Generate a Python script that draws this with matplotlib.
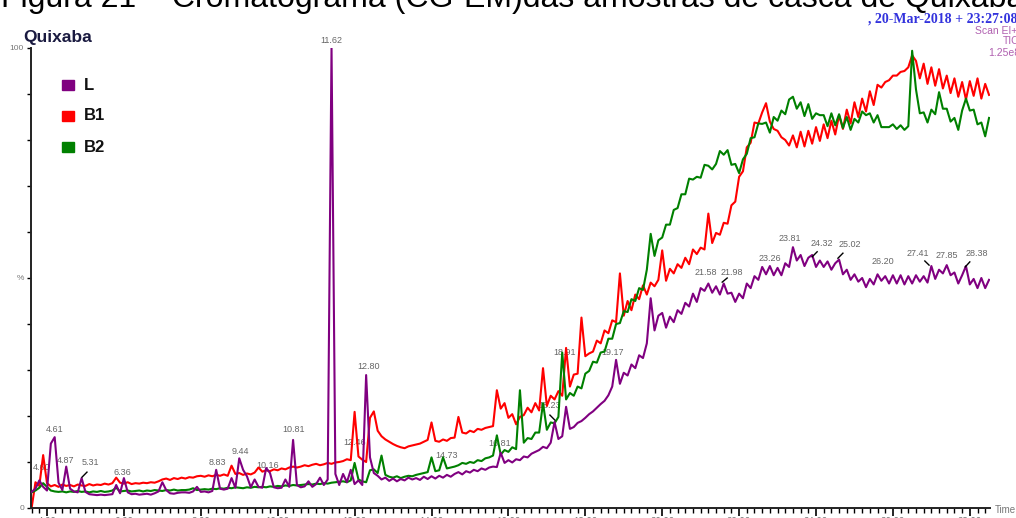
import numpy as np
import matplotlib.pyplot as plt
from matplotlib.patches import Rectangle

plt.rcParams['font.family'] = ['Liberation Sans', 'DejaVu Sans']

# Cromatograma (TIC, %) das tres amostras, uma leitura a cada 0.1 min a partir de 3.6 min
t_inicio = 3.6
passo = 0.1

L = [3.5, 4.2, 6.0, 4.6, 3.8, 14.0, 15.4, 5.5, 3.9, 9.0,
     4.2, 3.6, 3.4, 6.5, 3.5, 3.0, 2.9, 2.8, 2.9, 2.8,
     2.9, 3.0, 5.0, 3.2, 6.5, 3.4, 3.0, 3.1, 2.9, 3.0,
     3.1, 2.9, 3.2, 3.6, 5.6, 3.9, 3.2, 3.1, 3.3, 3.4,
     3.4, 3.3, 3.6, 4.6, 3.5, 3.6, 3.4, 3.7, 8.3, 4.2,
     4.0, 4.2, 6.5, 4.4, 10.8, 8.3, 6.9, 4.5, 6.2, 4.6,
     4.4, 8.7, 7.6, 4.5, 4.3, 4.4, 6.2, 4.6, 14.8, 5.0,
     4.5, 4.7, 5.8, 4.6, 5.2, 6.6, 5.0, 6.2, 100.0, 7.4,
     5.0, 7.4, 5.6, 8.3, 5.2, 6.0, 5.0, 28.9, 11.0, 7.6,
     7.0, 6.2, 6.6, 5.9, 6.4, 5.8, 6.3, 6.0, 6.6, 6.2,
     6.5, 6.1, 6.8, 6.3, 6.9, 6.4, 7.0, 6.6, 7.2, 6.8,
     7.4, 7.8, 7.3, 8.0, 7.7, 8.3, 8.0, 8.6, 8.3, 8.8,
     9.0, 8.9, 12.0, 9.8, 10.4, 9.9, 10.6, 10.4, 11.2, 11.0,
     11.8, 12.2, 12.6, 13.3, 13.0, 14.2, 18.7, 15.0, 15.6, 22.0,
     17.2, 17.6, 18.5, 18.9, 19.6, 20.4, 21.0, 21.8, 22.6, 23.3,
     24.5, 26.4, 32.2, 27.0, 29.4, 28.8, 31.2, 30.4, 33.2, 32.6,
     35.8, 45.6, 38.6, 41.8, 42.4, 39.2, 41.6, 40.4, 43.0, 42.2,
     44.6, 43.8, 46.6, 44.8, 47.8, 47.2, 48.8, 46.8, 48.2, 46.4,
     48.8, 46.6, 46.8, 44.8, 46.6, 45.6, 48.8, 47.8, 50.4, 49.6,
     52.4, 50.8, 52.6, 50.6, 52.2, 50.6, 53.2, 52.4, 56.7, 53.8,
     55.0, 52.6, 54.4, 55.0, 52.4, 53.8, 52.4, 53.6, 51.8, 53.2,
     54.0, 50.8, 51.8, 49.6, 50.8, 49.2, 50.0, 48.0, 49.8, 48.6,
     50.8, 49.4, 50.4, 48.8, 50.6, 48.8, 50.6, 48.6, 50.4, 48.8,
     50.6, 49.2, 50.4, 49.0, 52.6, 49.8, 51.8, 51.0, 52.8, 50.6,
     51.2, 48.8, 50.6, 52.6, 48.6, 49.8, 47.8, 50.0, 47.8, 49.6]

B1 = [0.0, 5.6, 4.8, 11.5, 5.4, 4.7, 5.0, 4.6, 5.1, 4.8,
      5.0, 4.7, 5.1, 4.9, 4.8, 5.2, 4.9, 5.1, 5.0, 5.3,
      5.1, 5.4, 6.6, 5.5, 5.3, 5.6, 5.2, 5.4, 5.3, 5.5,
      5.4, 5.6, 5.5, 5.8, 6.2, 6.4, 6.1, 6.5, 6.3, 6.6,
      6.4, 6.7, 6.6, 6.9, 7.0, 6.8, 7.1, 6.9, 7.2, 7.0,
      7.3, 7.0, 9.2, 7.4, 7.6, 7.2, 7.5, 7.3, 7.7, 8.8,
      7.9, 8.2, 8.0, 8.4, 8.2, 8.6, 8.4, 8.8, 9.0, 8.8,
      9.0, 9.3, 9.1, 9.4, 9.6, 9.3, 9.5, 9.8, 9.6, 9.9,
      10.0, 10.2, 10.6, 10.4, 20.9, 11.2, 10.5, 10.0, 19.6, 21.0,
      16.8, 15.6, 14.9, 14.4, 13.9, 13.5, 13.2, 13.0, 13.4, 13.6,
      13.8, 14.0, 14.4, 14.8, 18.6, 14.6, 14.4, 14.9, 14.6, 15.2,
      15.3, 19.8, 16.4, 16.2, 16.8, 16.5, 17.2, 17.0, 17.4, 17.6,
      17.8, 25.6, 21.6, 22.8, 19.6, 20.4, 18.2, 19.8, 20.2, 21.8,
      20.8, 22.8, 21.2, 30.4, 22.2, 24.4, 23.6, 25.4, 24.4, 34.8,
      26.4, 29.0, 29.2, 41.4, 33.0, 33.6, 34.0, 36.4, 35.8, 38.6,
      38.0, 40.8, 40.4, 51.0, 41.8, 45.0, 43.0, 46.4, 45.4, 48.4,
      46.4, 49.0, 48.2, 49.6, 56.0, 49.4, 52.0, 51.0, 53.0, 52.2,
      54.4, 53.0, 56.2, 55.2, 56.6, 56.2, 64.0, 57.6, 59.8, 59.4,
      62.0, 61.8, 65.8, 66.6, 72.0, 73.2, 78.4, 79.4, 83.8, 83.6,
      86.0, 88.0, 84.0, 82.4, 82.0, 80.6, 80.0, 78.8, 81.0, 78.4,
      81.8, 78.6, 82.0, 79.2, 82.8, 79.8, 83.4, 80.4, 84.2, 81.2,
      85.4, 82.4, 86.6, 83.6, 88.2, 85.0, 89.0, 86.2, 90.6, 87.6,
      92.0, 91.4, 92.6, 93.0, 94.0, 94.0, 94.8, 95.0, 95.8, 98.4,
      97.2, 93.4, 96.6, 92.2, 95.8, 91.8, 95.4, 91.2, 94.0, 90.2,
      93.4, 89.4, 92.6, 88.8, 92.8, 89.6, 93.4, 89.0, 92.2, 89.8]

B2 = [3.4, 3.8, 4.4, 5.4, 4.6, 3.8, 3.6, 3.5, 3.6, 3.4,
      3.6, 3.5, 3.7, 3.5, 3.6, 3.4, 3.6, 3.5, 3.7, 3.5,
      3.6, 3.8, 4.4, 3.6, 3.7, 3.8, 3.6, 3.7, 3.8, 3.6,
      3.8, 3.7, 3.9, 3.8, 3.7, 3.9, 3.8, 4.0, 3.8, 3.9,
      3.9, 4.0, 4.3, 3.9, 4.0, 4.1, 4.0, 4.2, 4.1, 4.3,
      4.2, 4.4, 4.3, 4.5, 4.4, 4.3, 4.5, 4.4, 4.6, 4.5,
      4.6, 4.5, 4.7, 4.6, 4.8, 4.7, 4.9, 4.8, 5.0, 4.9,
      5.0, 5.1, 5.2, 5.1, 5.3, 5.2, 5.4, 5.3, 5.5, 5.6,
      5.7, 5.8, 5.6, 6.0, 9.8, 6.2, 5.8, 5.6, 8.2, 8.4,
      7.6, 11.4, 7.2, 6.8, 6.6, 6.9, 6.5, 6.8, 7.0, 6.9,
      7.2, 7.4, 7.6, 7.8, 11.0, 8.0, 8.2, 11.0, 8.6, 8.8,
      9.0, 9.3, 9.8, 9.6, 10.0, 9.8, 10.4, 10.2, 10.8, 11.0,
      11.4, 15.8, 11.6, 12.6, 12.2, 13.2, 12.8, 25.6, 14.2, 15.2,
      15.0, 16.4, 16.4, 22.8, 17.0, 18.6, 18.4, 19.8, 33.8, 23.6,
      25.0, 24.4, 26.4, 26.0, 29.2, 29.8, 31.8, 31.6, 33.8, 34.0,
      36.8, 36.8, 40.0, 40.2, 42.8, 42.6, 45.4, 45.0, 47.8, 47.4,
      51.8, 59.6, 54.8, 58.2, 58.8, 61.6, 61.6, 64.8, 65.2, 68.2,
      68.2, 71.6, 71.4, 72.0, 71.8, 74.6, 74.4, 73.6, 74.8, 77.6,
      76.8, 77.8, 74.6, 74.8, 72.8, 75.8, 77.0, 80.4, 80.6, 83.6,
      83.5, 83.8, 81.6, 85.0, 84.2, 86.4, 85.6, 88.8, 89.4, 86.8,
      88.2, 85.2, 87.8, 84.6, 85.8, 85.4, 85.4, 83.0, 85.8, 83.2,
      85.6, 82.6, 85.0, 82.2, 84.6, 83.8, 86.2, 85.4, 85.8, 83.8,
      85.4, 82.8, 82.8, 82.8, 83.4, 82.4, 83.2, 82.2, 83.0, 99.4,
      91.0, 85.8, 86.0, 83.8, 86.6, 85.6, 90.4, 86.8, 86.8, 84.0,
      84.8, 82.2, 86.4, 89.0, 86.4, 86.6, 83.4, 83.8, 80.8, 84.8]

# rotulos dos picos (texto, tempo, altura em %)
picos_txt = ['4.60', '4.61', '4.87', '5.31', '6.36', '8.83', '9.44', '10.16', '10.81',
             '11.62', '12.46', '12.80', '14.73', '16.81', '18.23', '18.91', '19.17',
             '21.58', '21.98', '23.26', '23.81', '24.32', '25.02', '26.20', '27.41',
             '27.85', '28.38']
picos_t = [3.87, 4.21, 4.49, 5.12, 5.95, 8.42, 9.02, 9.75, 10.40,
           11.39, 12.01, 12.37, 14.38, 15.78, 17.06, 17.47, 18.72,
           21.14, 21.82, 22.80, 23.32, 24.16, 24.88, 25.74, 26.65,
           27.41, 28.19]
picos_y = [8.7, 17.0, 10.4, 9.8, 7.8, 9.8, 12.2, 9.3, 17.0,
           101.7, 14.3, 30.7, 11.5, 14.1, 22.2, 33.7, 33.7,
           51.3, 51.3, 54.3, 58.5, 57.4, 57.2, 53.5, 55.4,
           55.0, 55.4]

# pequenas setas de ligacao rotulo -> pico
setas = [((4.91, 6.7), (5.04, 7.8)), ((17.08, 20.2), (17.21, 19.1)),
         ((21.56, 49.1), (21.69, 50.0)), ((23.90, 54.6), (24.03, 55.7)),
         ((24.57, 54.3), (24.70, 55.4)), ((26.83, 53.7), (26.94, 52.8)),
         ((27.88, 52.4), (28.00, 53.5))]

amostras = ['L', 'B1', 'B2']
cores = {'L': '#800080', 'B1': '#ff0000', 'B2': '#008000'}

W, H = 1016, 518
fig = plt.figure(figsize=(W / 100, H / 100), dpi=100)
ax = fig.add_axes([31 / W, 10 / H, 959 / W, 460 / H])

tempo = t_inicio + passo * np.arange(len(L))

ax.plot(tempo, B1, color=cores['B1'], lw=1.5, zorder=2)
ax.plot(tempo, B2, color=cores['B2'], lw=1.5, zorder=3)
ax.plot(tempo, L, color=cores['L'], lw=1.5, zorder=4)

for s, tx, ty in zip(picos_txt, picos_t, picos_y):
    ax.text(tx, ty, s, ha='center', va='center', fontsize=6.5, color='#666666',
            zorder=1, clip_on=False)
for (a, b) in setas:
    ax.plot([a[0], b[0]], [a[1], b[1]], color='black', lw=1, zorder=5, clip_on=False)

ax.set_xlim(3.584, 28.525)
ax.set_ylim(0, 100)

# eixos
for lado in ['top', 'right']:
    ax.spines[lado].set_visible(False)
for lado in ['left', 'bottom']:
    ax.spines[lado].set_linewidth(1.4)
    ax.spines[lado].set_color('#222222')

ax.set_xticks(np.arange(4, 29, 2))
ax.set_xticklabels(['%.2f' % v for v in np.arange(4, 29, 2)])
ax.set_xticks(np.arange(3.6, 28.55, 0.2), minor=True)
ax.tick_params(axis='x', which='major', length=6, width=1.2, pad=0.5,
               labelsize=7, labelcolor='#777777')
ax.tick_params(axis='x', which='minor', length=3.5, width=1.0)

ax.set_yticks(np.arange(0, 101, 10))
ax.set_yticklabels(['0', '', '', '', '', '%', '', '', '', '', '100'])
ax.tick_params(axis='y', length=3, width=1.0, pad=2, labelsize=6,
               labelcolor='#777777')

# textos em coordenadas da figura
def fx(px):
    return px / W

def fy(py):
    return 1 - py / H

fig.text(fx(1), fy(7), 'Figura 21 \u2013 Cromatograma (CG-EM)das amostras de casca de Quixaba',
         fontsize=23, color='black', va='baseline', ha='left')
fig.text(fx(23), fy(42), 'Quixaba', fontsize=12.5, fontweight='bold',
         color='#1a1a40', va='baseline')
fig.text(fx(868), fy(23), ', 20-Mar-2018 + 23:27:08', fontsize=10, fontweight='bold',
         color='#3333dd', family=['Liberation Serif', 'DejaVu Serif'], va='baseline')
fig.text(fx(975), fy(34), 'Scan EI+', fontsize=7.5, color='#b060b0', va='baseline')
fig.text(fx(1003), fy(44), 'TIC', fontsize=7.5, color='#b060b0', va='baseline')
fig.text(fx(988), fy(56), '1.25e8', fontsize=7.5, color='#b060b0', va='baseline')
fig.text(fx(995), fy(510), 'Time', fontsize=7, color='#777777', va='center')

# legenda manual
leg_y = [85, 116, 147]
for nome, py in zip(amostras, leg_y):
    fig.add_artist(Rectangle((fx(62), fy(py + 5)), 12 / W, 10 / H,
                             transform=fig.transFigure, color=cores[nome]))
    fig.text(fx(84), fy(py), nome, fontsize=12, fontweight='bold',
             color='#111111', va='center')

fig.savefig('out.png', dpi=100)
